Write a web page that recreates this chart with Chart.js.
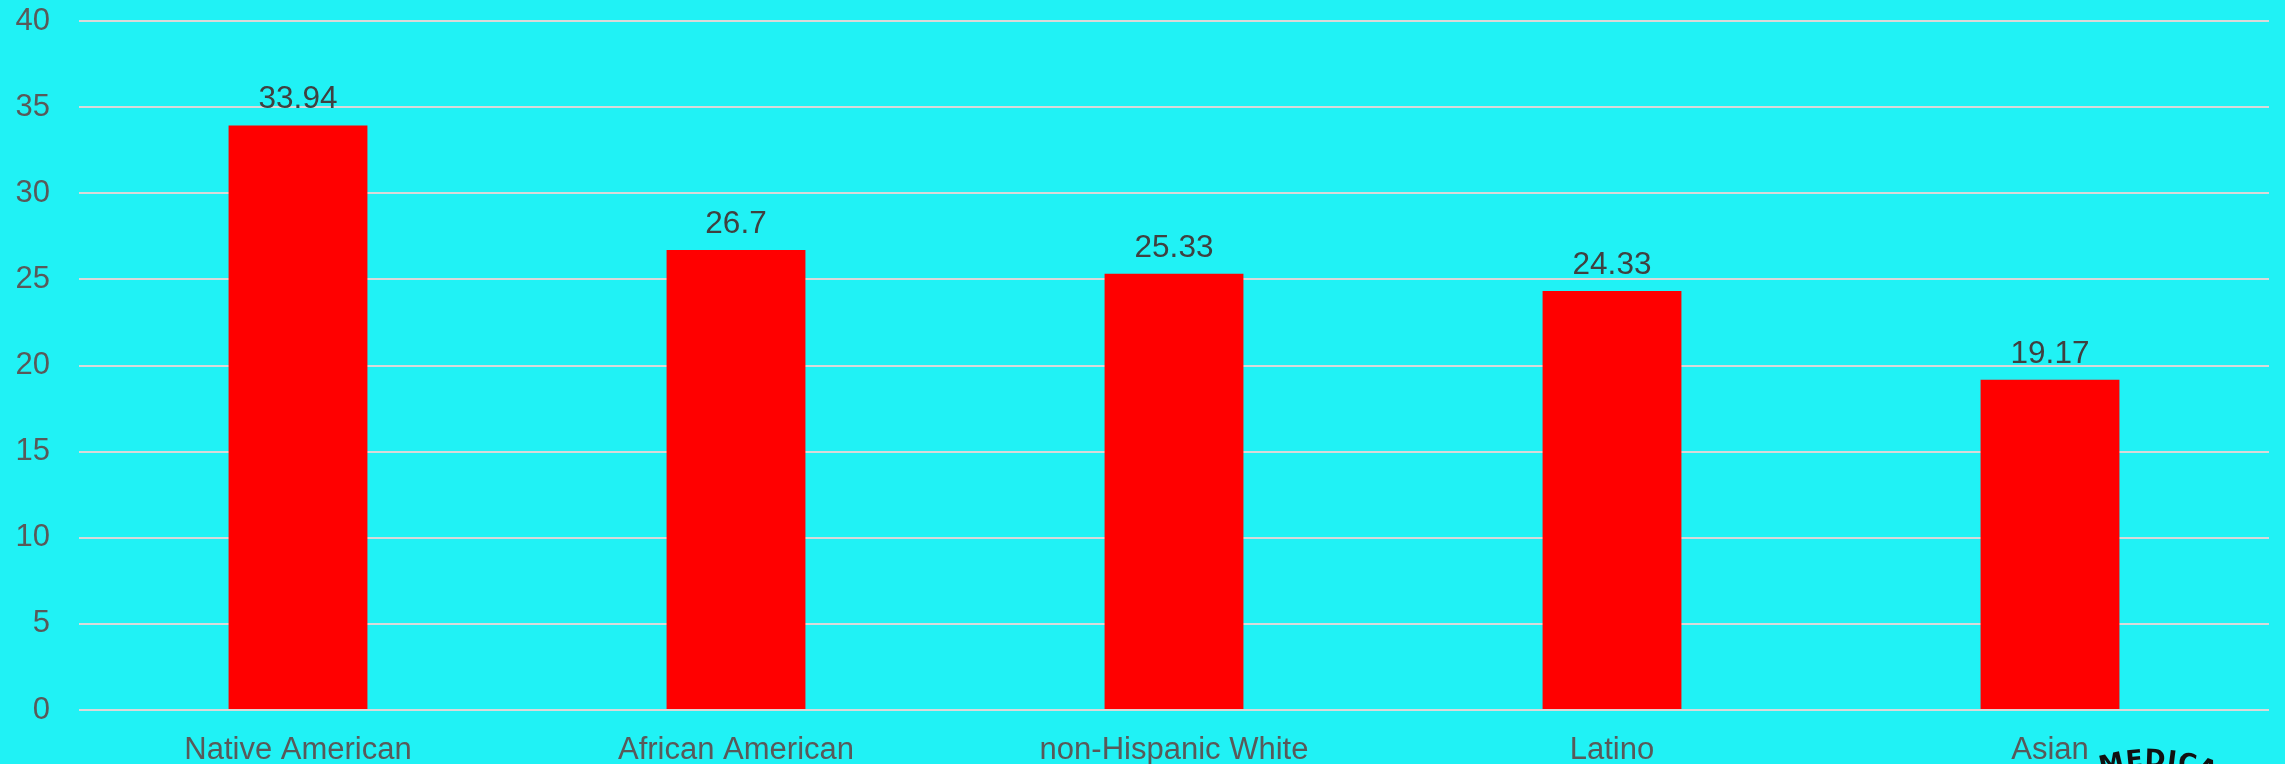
<!DOCTYPE html>
<html>
<head>
<meta charset="utf-8">
<title>Rates by group</title>
<script src="https://cdn.jsdelivr.net/npm/chart.js@4/dist/chart.umd.min.js"></script>
<style>
  html, body { margin: 0; padding: 0; background: #20f2f5; overflow: hidden; }
  canvas { display: block; }
</style>
</head>
<body>
<canvas id="chart" width="2285" height="764"></canvas>
<script>
// Chart data
const groups = ['Native American', 'African American', 'non-Hispanic White', 'Latino', 'Asian'];
const rates = [33.94, 26.7, 25.33, 24.33, 19.17];
const yTicks = [0, 5, 10, 15, 20, 25, 30, 35, 40];

const FONT = '"Liberation Sans", Arial, sans-serif';

// Cyan backdrop behind the whole canvas
const backdrop = {
    id: 'backdrop',
    beforeDraw(chart) {
        const c = chart.ctx;
        c.save();
        c.fillStyle = '#20f2f5';
        c.fillRect(0, 0, chart.width, chart.height);
        c.restore();
    }
};

// Value printed above each bar
const valueLabels = {
    id: 'valueLabels',
    afterDatasetsDraw(chart) {
        const c = chart.ctx;
        const meta = chart.getDatasetMeta(0);
        c.save();
        c.font = '31.5px ' + FONT;
        c.fillStyle = '#404040';
        c.textAlign = 'center';
        c.textBaseline = 'alphabetic';
        meta.data.forEach((bar, i) => {
            c.fillText(String(rates[i]), bar.x, bar.y - 17);
        });
        c.restore();
    }
};

// Stamp text curving off the bottom-right corner
const stamp = {
    id: 'stamp',
    afterDraw(chart) {
        const c = chart.ctx;
        const word = 'MEDICAL';
        const cx = 2150, cy = 932, r = 165;
        let theta = -0.3;
        c.save();
        c.font = 'bold 25px "DejaVu Sans", sans-serif';
        c.fillStyle = '#111111';
        c.textAlign = 'center';
        c.textBaseline = 'alphabetic';
        for (const ch of word) {
            const w = c.measureText(ch).width;
            theta += (w / 2) / r;
            c.save();
            c.translate(cx + r * Math.sin(theta), cy - r * Math.cos(theta));
            c.rotate(theta);
            c.fillText(ch, 0, 0);
            c.restore();
            theta += (w / 2 + 1) / r;
        }
        c.restore();
    }
};

new Chart(document.getElementById('chart').getContext('2d'), {
    type: 'bar',
    data: {
        labels: groups,
        datasets: [{
            data: rates,
            backgroundColor: '#ff0000',
            borderWidth: 0,
            categoryPercentage: 1,
            barPercentage: 0.317
        }]
    },
    options: {
        responsive: false,
        animation: false,
        events: [],
        layout: { padding: { top: 21, right: 16, left: 0, bottom: 0 } },
        plugins: {
            legend: { display: false },
            tooltip: { enabled: false }
        },
        scales: {
            x: {
                grid: { display: false },
                border: { display: false },
                ticks: {
                    color: '#595959',
                    font: { family: FONT, size: 31 },
                    padding: 14,
                    maxRotation: 0,
                    autoSkip: false
                },
                afterFit(scale) {
                    scale.height = 54;
                    scale.paddingLeft = 0;
                    scale.paddingRight = 0;
                }
            },
            y: {
                min: yTicks[0],
                max: yTicks[yTicks.length - 1],
                afterBuildTicks(scale) {
                    scale.ticks = yTicks.map(v => ({ value: v }));
                },
                grid: { color: '#d9d9d9', lineWidth: 2, drawTicks: false },
                border: { display: false },
                ticks: {
                    color: '#595959',
                    font: { family: FONT, size: 31 },
                    padding: 29
                },
                afterFit(scale) {
                    scale.width = 79;
                    scale.paddingTop = 0;
                    scale.paddingBottom = 0;
                }
            }
        }
    },
    plugins: [backdrop, valueLabels, stamp]
});
</script>
</body>
</html>
